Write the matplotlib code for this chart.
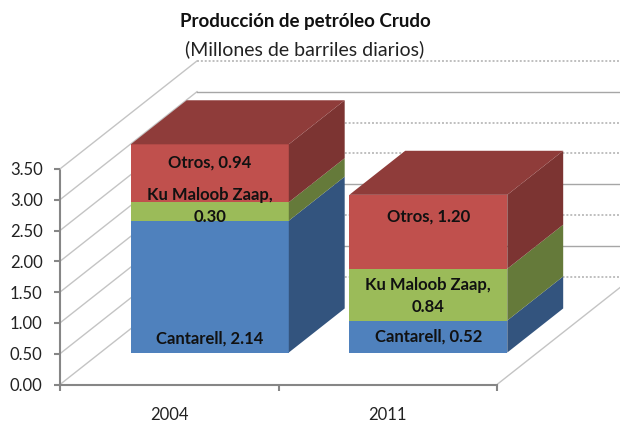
import matplotlib
matplotlib.use("Agg")
import matplotlib.pyplot as plt
from matplotlib.patches import Polygon

plt.rcParams['font.family'] = ['Lato', 'DejaVu Sans']

years = ['2004', '2011']
series_names = ['Cantarell', 'Ku Maloob Zaap', 'Otros']
cantarell = [2.14, 0.52]
ku_maloob = [0.30, 0.84]
otros = [0.94, 1.20]
y_ticks = [0.0, 0.5, 1.0, 1.5, 2.0, 2.5, 3.0, 3.5]
title = 'Producción de petróleo Crudo'
subtitle = '(Millones de barriles diarios)'

front_colors = ['#4F81BD', '#9BBB59', '#C0504D']
side_colors = ['#33547E', '#657A3A', '#7C3432']
top_color = '#8F3C3A'
grid_styles = ['dot', 'solid', 'dot', 'solid', 'dot', 'dot', 'solid', 'dot']

W, H = 620, 423
PX_X, PX_Y = 218.5, 61.6
DEPTH_X, DEPTH_Y = 137 / PX_X, 108 / PX_Y
BAR_W, D0, D1 = 0.723, 0.296, 0.704

fig = plt.figure(figsize=(W / 100, H / 100), dpi=100)
ax = fig.add_axes([60 / W, (H - 384.5) / H, 437 / W, 3.5 * PX_Y / H])
ax.set_xlim(0, 2)
ax.set_ylim(0, 3.5)
ax.patch.set_alpha(0)


def proj(c, v, d):
    return (c + d * DEPTH_X, v + d * DEPTH_Y)


AX_COLOR = '#868686'
GRID_COLOR = '#A6A6A6'
DIAG_COLOR = '#C4C4C4'
far_x = 2.6
for v, st in zip(y_ticks, grid_styles):
    ax.plot(*zip(proj(0, v, 0), proj(0, v, 1)), color=DIAG_COLOR, lw=1.0,
            clip_on=False, zorder=1)
    x0, y0 = proj(0, v, 1)
    ls = (0, (1, 1)) if st == 'dot' else '-'
    lw = 1.4 if st == 'dot' else 1.0
    col = '#BFBFBF' if st == 'dot' else GRID_COLOR
    ax.plot([x0, far_x], [y0, y0], color=col, lw=lw, ls=ls, clip_on=False, zorder=1)
ax.plot(*zip(proj(2, 0, 0), proj(2, 0, 1)), color=DIAG_COLOR, lw=1.0,
        clip_on=False, zorder=1)

for i, yr in enumerate(years):
    left = i + 0.5 - BAR_W / 2
    right = i + 0.5 + BAR_W / 2
    base = 0.0
    for k, vals in enumerate([cantarell, ku_maloob, otros]):
        top = base + vals[i]
        front = [proj(left, base, D0), proj(right, base, D0),
                 proj(right, top, D0), proj(left, top, D0)]
        side = [proj(right, base, D0), proj(right, base, D1),
                proj(right, top, D1), proj(right, top, D0)]
        ax.add_patch(Polygon(front, fc=front_colors[k], ec='none', clip_on=False, zorder=3))
        ax.add_patch(Polygon(side, fc=side_colors[k], ec='none', clip_on=False, zorder=3))
        base = top
    roof = [proj(left, base, D0), proj(right, base, D0),
            proj(right, base, D1), proj(left, base, D1)]
    ax.add_patch(Polygon(roof, fc=top_color, ec='none', clip_on=False, zorder=3))

# label anchors on the value axis (series index, bar index)
label_y = {(2, 0): 3.596, (1, 0): 2.898, (0, 0): 0.739,
           (2, 1): 2.735, (1, 1): 1.437, (0, 1): 0.787}
for k, vals in enumerate([cantarell, ku_maloob, otros]):
    for i, v in enumerate(vals):
        sep = ',\n' if k == 1 else ', '
        x = proj(i + 0.5, 0, D0)[0]
        ax.text(x, label_y[(k, i)], f'{series_names[k]}{sep}{v:.2f}', ha='center', va='center',
                fontsize=12, fontweight='bold', color='#111111', zorder=5,
                linespacing=1.45, clip_on=False)

ax.set_yticks(y_ticks)
ax.set_yticklabels([f'{v:.2f}' for v in y_ticks], fontsize=12, color='#222222',
                   va='center_baseline')
ax.tick_params(axis='y', length=4.5, width=1.5, color=AX_COLOR, pad=8)
ax.set_xticks([0, 1, 2])
ax.set_xticklabels([])
ax.tick_params(axis='x', length=4.5, width=1.5, color=AX_COLOR, which='major')
ax.set_xticks([0.5, 1.5], minor=True)
ax.set_xticklabels(years, minor=True, fontsize=12, color='#222222')
ax.tick_params(axis='x', which='minor', length=0, pad=16.5)
for s in ['top', 'right']:
    ax.spines[s].set_visible(False)
ax.spines['bottom'].set_color(AX_COLOR)
ax.spines['bottom'].set_linewidth(1.5)
ax.spines['left'].set_color(AX_COLOR)
ax.spines['left'].set_linewidth(1.5)
ax.spines['left'].set_linestyle((0, (1, 1)))

fig.text(305 / W, 1 - 22 / H, title, ha='center', va='center', fontsize=13.5,
         fontweight='bold', color='#111111')
fig.text(305 / W, 1 - 49 / H, subtitle, ha='center', va='center', fontsize=14,
         color='#222222')

fig.savefig('out.png', dpi=100, facecolor='white')
